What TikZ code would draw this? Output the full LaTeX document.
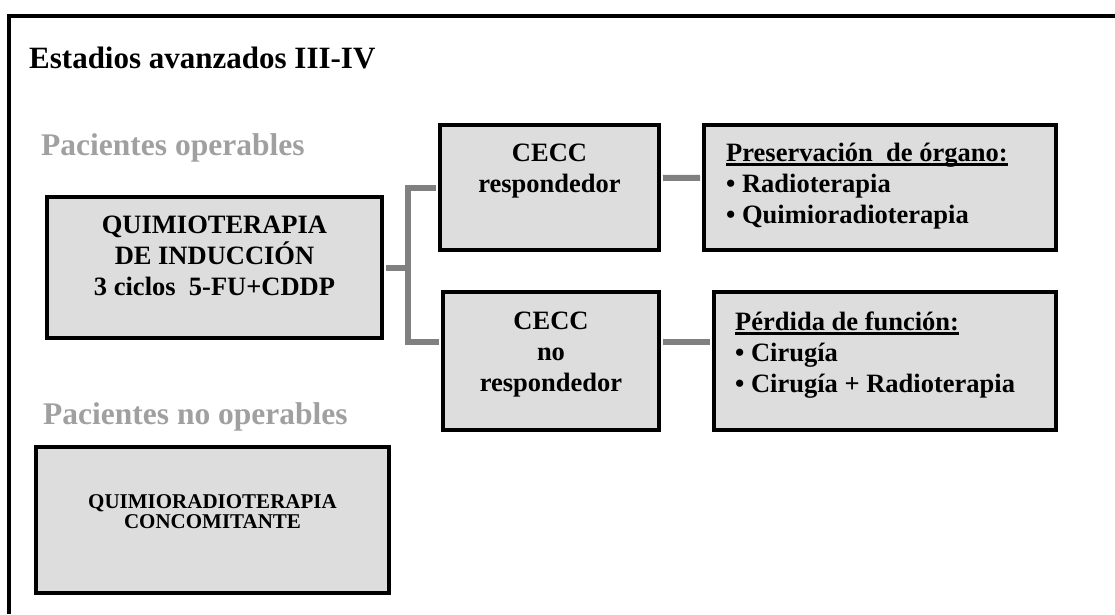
\documentclass[tikz,border=0pt]{standalone}
\usepackage{fontspec}
\setmainfont{Liberation Serif}
\definecolor{fondocaja}{HTML}{DDDDDD}
\definecolor{grispac}{HTML}{A0A0A0}
\definecolor{grisconn}{HTML}{808080}
\newcommand\subrayado[1]{\setbox0=\hbox{#1}\rlap{\vrule height -2pt depth 5pt width \wd0}\box0}
\tikzset{
  caja/.style={draw=black, line width=4pt, fill=fondocaja, inner sep=0pt},
  conn/.style={draw=grisconn, line width=6pt},
  titulo/.style={font=\fontsize{31}{36}\selectfont\bfseries, inner sep=0pt},
  pac/.style={font=\fontsize{31.5}{36}\selectfont\bfseries, text=grispac, inner sep=0pt},
  txt/.style={font=\fontsize{26.5}{31}\selectfont\bfseries, inner sep=0pt, align=center},
  txtpeq/.style={font=\fontsize{21}{20}\selectfont\bfseries, inner sep=0pt, align=center}
}
\begin{document}
\begin{tikzpicture}[x=1pt,y=-1pt]
\useasboundingbox (0,0) rectangle (1115,614);
\draw[line width=4pt] (9,614) -- (9,15.5) -- (1115,15.5);

\node[titulo, anchor=base west] (tit) at (29,68) {Estadios avanzados III-IV};
\node[pac, anchor=base west] (pacop) at (41,155) {Pacientes operables};
\node[pac, anchor=base west] (pacnoop) at (43,424) {Pacientes no operables};

\node[caja, minimum width=335pt, minimum height=141pt] (ind) at (214.5,267.5) {};
\node[caja, minimum width=219pt, minimum height=125pt] (resp) at (549.5,187.5) {};
\node[caja, minimum width=352pt, minimum height=125.5pt] (pres) at (880,187.25) {};
\node[caja, minimum width=216pt, minimum height=138pt] (noresp) at (551,361) {};
\node[caja, minimum width=342pt, minimum height=138pt] (perd) at (885,361) {};
\node[caja, minimum width=353pt, minimum height=145.5pt] (crt) at (212.5,519.75) {};

\node[txt, anchor=base] (indtxt) at (214.5,295) {QUIMIOTERAPIA\\DE INDUCCIÓN\\3 ciclos\ \ 5-FU+CDDP};
\node[txt, anchor=base] (resptxt) at (549.5,192) {CECC\\respondedor};
\node[txt, anchor=base] (noresptxt) at (551,391) {CECC\\no\\respondedor};
\node[txt, align=left, anchor=base west] (prestxt) at (726,223) {\subrayado{Preservación\ \ de órgano:}\\• Radioterapia\\• Quimioradioterapia};
\node[txt, align=left, anchor=base west] (perdtxt) at (735,392) {\subrayado{Pérdida de función:}\\• Cirugía\\• Cirugía + Radioterapia};
\node[txtpeq, anchor=base] (crttxt) at (212.5,528) {QUIMIORADIOTERAPIA\\CONCOMITANTE};

\coordinate (rama) at (408,267.5);
\draw[conn, shorten <=2pt] (ind.east) -- (rama);
\draw[conn, shorten >=2pt] (rama) |- (resp.west);
\draw[conn, shorten >=2pt] (rama) |- ([yshift=19pt]noresp.west);
\path[conn, shorten <=2pt, shorten >=2pt] ([yshift=9.5pt]resp.east) edge ([yshift=9.5pt]pres.west);
\path[conn, shorten <=2pt, shorten >=2pt] ([yshift=19pt]noresp.east) edge ([yshift=19pt]perd.west);
\end{tikzpicture}
\end{document}
